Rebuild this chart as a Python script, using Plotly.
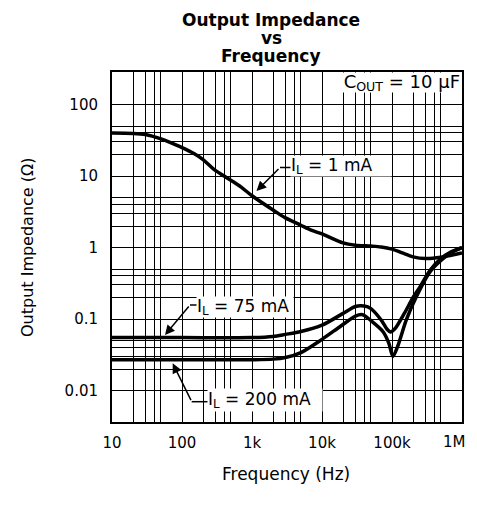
import plotly.graph_objects as go

# ---------------- data ----------------
freq_1mA = [10, 20, 30, 50, 70, 100, 150, 200, 280, 400, 540, 700, 1000, 2000, 3000,
            5000, 7000, 10000, 20000, 30000, 50000, 70000, 100000, 150000, 200000,
            300000, 500000, 700000, 1000000]
z_1mA = [40, 39.5, 38, 33, 29, 25, 20.5, 17.0, 12.6, 10.0, 8.3, 7.0, 5.3, 3.35, 2.6,
         2.05, 1.75, 1.55, 1.16, 1.08, 1.05, 1.02, 0.95, 0.82, 0.74,
         0.7, 0.73, 0.78, 0.84]

freq_75mA = [10, 100, 1000, 2000, 3000, 5000, 10000, 20000, 30000, 40000, 50000,
             70000, 85000, 95000, 110000, 150000, 200000, 250000, 350000, 500000,
             700000, 1000000]
z_75mA = [0.055, 0.055, 0.055, 0.057, 0.061, 0.067, 0.082, 0.12, 0.15, 0.152, 0.14,
          0.097, 0.072, 0.066, 0.073, 0.12, 0.2, 0.28, 0.48, 0.7, 0.87, 1.0]

freq_200mA = [10, 100, 1000, 2000, 3000, 5000, 10000, 18000, 30000, 38000, 50000,
              75000, 90000, 103000, 120000, 160000, 220000, 350000, 500000,
              700000, 1000000]
z_200mA = [0.027, 0.027, 0.027, 0.0275, 0.029, 0.034, 0.052, 0.078, 0.11, 0.115,
           0.095, 0.066, 0.046, 0.030, 0.041, 0.097, 0.2, 0.46, 0.66, 0.85, 1.0]

x_tick_vals = [10, 20, 30, 40, 50, 100, 200, 300, 400, 500, 1000, 2000, 3000, 4000, 5000,
               10000, 20000, 30000, 40000, 50000, 100000, 200000, 300000, 400000, 500000,
               1000000]
x_tick_text = ["10", "", "", "", "", "100", "", "", "", "", "1k", "", "", "", "",
               "10k", "", "", "", "", "100k", "", "", "", "", ""]
x_last_label = "1M"   # drawn separately so it is not clipped at the page edge

y_tick_vals = [0.01, 0.02, 0.03, 0.04, 0.05, 0.1, 0.2, 0.3, 0.4, 0.5, 1, 2, 3, 4, 5,
               10, 20, 30, 40, 50, 100]
y_tick_text = ["0.01", "", "", "", "", "0.1", "", "", "", "", "1", "", "", "", "",
               "10", "", "", "", "", "100"]

# ---------------- layout helpers ----------------
# The page body adds an 8px margin, so the figure is drawn 8px in from the corner.
OFF = 8
VIEW_W, VIEW_H = 477, 506
PL, PR, PT, PB = 112, 462, 72, 422          # plot area in screen pixels
W, H = VIEW_W - 2 * OFF, VIEW_H - 2 * OFF
ML, MT = PL - OFF, PT - OFF
MR, MB = (OFF + W) - PR, (OFF + H) - PB
PW, PH = PR - PL, PB - PT


def px(x):
    return (x - PL) / PW


def py(y):
    return (PB - y) / PH


FONT = "DejaVu Sans"
BLACK = "black"

fig = go.Figure()
for f, z in [(freq_1mA, z_1mA), (freq_75mA, z_75mA), (freq_200mA, z_200mA)]:
    fig.add_trace(go.Scatter(x=f, y=z, mode="lines",
                             line=dict(color=BLACK, width=3.5, shape="spline", smoothing=0.8),
                             showlegend=False, hoverinfo="skip"))

axis_common = dict(type="log", showgrid=True, gridcolor=BLACK, gridwidth=1.4,
                   showline=True, linecolor=BLACK, linewidth=2, mirror=True,
                   ticks="", zeroline=False, automargin=False,
                   ticklabeloverflow="allow",
                   tickfont=dict(family=FONT, size=15, color=BLACK))

fig.update_xaxes(range=[1, 6], tickmode="array", tickvals=x_tick_vals,
                 ticktext=x_tick_text, ticklabelstandoff=6, **axis_common)
fig.update_yaxes(range=[-2.44, 2.455], tickmode="array", tickvals=y_tick_vals,
                 ticktext=y_tick_text, ticklabelstandoff=9, **axis_common)

annotations = []
# last x tick label, kept inside the figure
annotations.append(dict(text=x_last_label, xref="paper", yref="paper",
                        x=px(OFF + W - 1), y=py(442), xanchor="right", yanchor="middle",
                        showarrow=False, font=dict(family=FONT, size=15, color=BLACK)))
# Title lines
for txt, yc in [("Output Impedance", 20.5), ("vs", 38), ("Frequency", 56)]:
    annotations.append(dict(text="<b>" + txt + "</b>", xref="paper", yref="paper",
                            x=px(271), y=py(yc), xanchor="center", yanchor="middle",
                            showarrow=False,
                            font=dict(family=FONT, size=17, color=BLACK)))
# Axis titles
annotations.append(dict(text="Frequency (Hz)", xref="paper", yref="paper",
                        x=px(286), y=py(474), xanchor="center", yanchor="middle",
                        showarrow=False, font=dict(family=FONT, size=17, color=BLACK)))
annotations.append(dict(text="Output Impedance (Ω)", xref="paper", yref="paper",
                        x=px(27), y=0.5, xanchor="center", yanchor="middle",
                        textangle=-90, showarrow=False,
                        font=dict(family=FONT, size=16, color=BLACK)))

lab_font = dict(family=FONT, size=17, color=BLACK)
# C_OUT label box
annotations.append(dict(text="C<sub>OUT</sub> = 10 µF", xref="paper", yref="paper",
                        x=px(461), y=py(82), xanchor="right", yanchor="middle",
                        width=126, height=19, align="right", bgcolor="white",
                        borderpad=0, showarrow=False,
                        font=dict(family=FONT, size=18, color=BLACK)))
# I_L labels (box left x, center y, width, height)
for txt, bx, cy, bw, bh in [("I<sub>L</sub> = 1 mA", 290, 166, 100, 20),
                            ("I<sub>L</sub> = 75 mA", 196, 307, 96, 20),
                            ("I<sub>L</sub> = 200 mA", 207, 400, 114, 22)]:
    annotations.append(dict(text=txt, xref="paper", yref="paper",
                            x=px(bx), y=py(cy), xanchor="left", yanchor="middle",
                            width=bw, height=bh, align="left", bgcolor="white",
                            borderpad=0, showarrow=False, font=lab_font))

# leader arrows: (tail x, tail y, tip x, tip y)
for tx, ty, hx, hy in [(280, 167.5, 256.5, 191), (190, 305, 165, 335),
                       (191.7, 401.7, 172.7, 363.3)]:
    annotations.append(dict(text="", xref="paper", yref="paper", x=px(hx), y=py(hy),
                            ax=tx - hx, ay=ty - hy, showarrow=True, arrowhead=2,
                            arrowsize=1.3, arrowwidth=1.5, arrowcolor=BLACK, standoff=0))

shapes = []
for x0, x1, yy in [(280, 292, 167.5), (190, 198, 305), (191.7, 209, 401.7)]:
    shapes.append(dict(type="line", xref="paper", yref="paper", x0=px(x0), x1=px(x1),
                       y0=py(yy), y1=py(yy), line=dict(color=BLACK, width=1.5),
                       layer="above"))

fig.update_layout(width=W, height=H,
                  margin=dict(l=ML, r=MR, t=MT, b=MB, autoexpand=False),
                  paper_bgcolor="white", plot_bgcolor="white",
                  annotations=annotations, shapes=shapes, showlegend=False)

fig.write_html("out.html")
